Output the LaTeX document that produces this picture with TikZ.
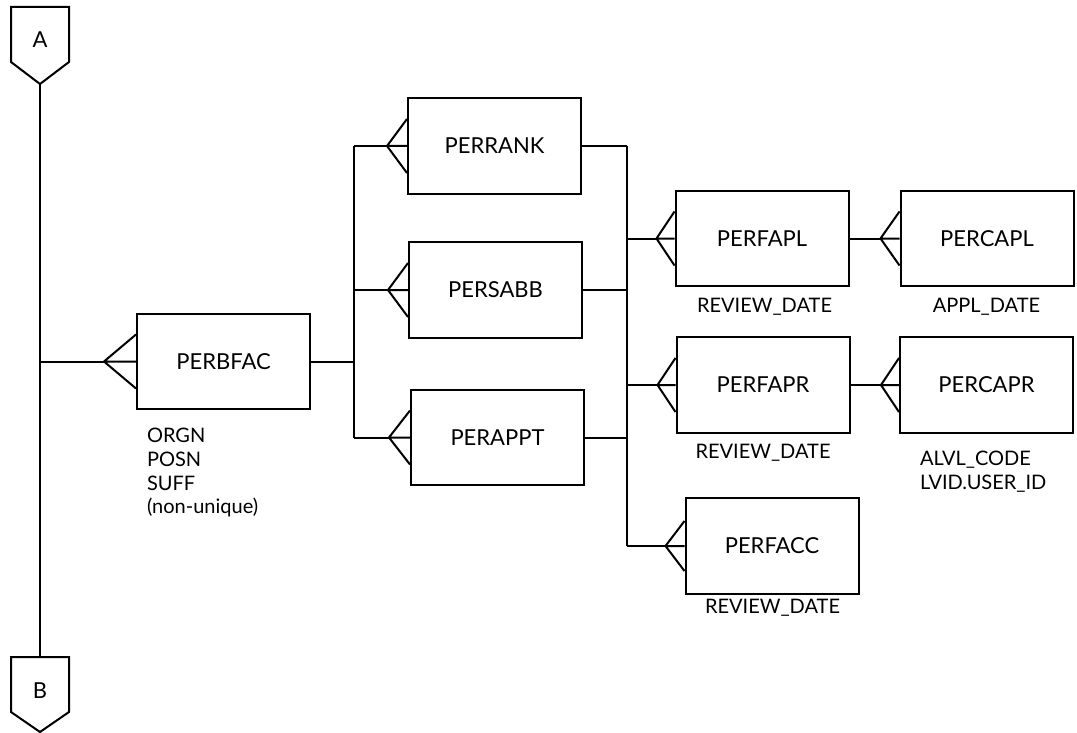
\documentclass[tikz,border=0pt]{standalone}
\usepackage{fontspec}
\setmainfont{Lato}
\usetikzlibrary{calc}
\tikzset{
  entity/.style={draw, rectangle, inner sep=0pt, minimum width=173pt, minimum height=95.5pt, font=\fontsize{22}{26}\selectfont},
  attr/.style={inner sep=0pt, font=\fontsize{20}{24}\selectfont},
  offpage/.style={inner sep=0pt, font=\fontsize{22}{26}\selectfont},
}
% many-end of a relationship: three prongs from a point to the box's west side
\newcommand\crowfoot[3]{%
  \draw ($(#1.west)+(-#2,0)$) -- ($(#1.west)+(0,#3)$)
        ($(#1.west)+(-#2,0)$) -- (#1.west)
        ($(#1.west)+(-#2,0)$) -- ($(#1.west)+(0,-#3)$);}
\begin{document}
\begin{tikzpicture}[x=1pt, y=-1pt, line width=2pt, line join=miter]
\useasboundingbox (0,0) rectangle (1077,733);

% off-page connectors
\draw (11,7) -- (69,7) -- (69,62) -- (40,84) -- (11,62) -- cycle;
\node[offpage, anchor=base] (A) at (40,48) {A};
\coordinate (Atip) at (40,84);
\draw (11,657) -- (69,657) -- (69,712) -- (40,732) -- (11,712) -- cycle;
\node[offpage, anchor=base] (B) at (40,698) {B};
\coordinate (Btop) at (40,657);
\draw (Atip) -- (Btop);

% entities
\node[entity] (perbfac) at (223.5,361.5) {PERBFAC};
\node[entity] (perrank) at (494.5,146) {PERRANK};
\node[entity] (persabb) at (495.5,290) {PERSABB};
\node[entity] (perappt) at (497.5,437.5) {PERAPPT};
\node[entity] (perfapl) at (762,238.5) {PERFAPL};
\node[entity] (percapl) at (987,238.5) {PERCAPL};
\node[entity] (perfapr) at (763,385) {PERFAPR};
\node[entity] (percapr) at (986.5,385) {PERCAPR};
\node[entity] (perfacc) at (772,546) {PERFACC};

% key attributes
\node[attr, anchor=base west] (kbfac1) at (146,442) {ORGN};
\node[attr, anchor=base west] (kbfac2) at (146,466) {POSN};
\node[attr, anchor=base west] (kbfac3) at (146,490) {SUFF};
\node[attr, anchor=base west] (kbfac4) at (146,513) {(non-unique)};
\node[attr, anchor=base] (kfapl) at (764.5,312) {REVIEW\_DATE};
\node[attr, anchor=base] (kcapl) at (986.5,312) {APPL\_DATE};
\node[attr, anchor=base] (kfapr) at (763,458) {REVIEW\_DATE};
\node[attr, anchor=base west] (kcapr1) at (919,465) {ALVL\_CODE};
\node[attr, anchor=base west] (kcapr2) at (919,489) {LVID.USER\_ID};
\node[attr, anchor=base] (kfacc) at (772.5,613) {REVIEW\_DATE};

% junction points
\coordinate (jA) at (40,361.5);
\coordinate (jL) at (354,361.5);
\coordinate (jLt) at (354,146);
\coordinate (jLb) at (354,437.5);
\coordinate (jRt) at (627,146);
\coordinate (jRb) at (627,546);

% A/B line to PERBFAC
\draw (jA) -- ($(perbfac.west)+(-32,0)$);
\crowfoot{perbfac}{32}{27}

% PERBFAC to the three child entities
\draw (perbfac.east) -- (jL);
\draw (jLt) -- (jLb);
\draw (jLt) -- ($(perrank.west)+(-20,0)$);
\crowfoot{perrank}{20}{27}
\draw (jL |- persabb.west) -- ($(persabb.west)+(-20,0)$);
\crowfoot{persabb}{20}{27}
\draw (jLb) -- ($(perappt.west)+(-21,0)$);
\crowfoot{perappt}{21}{27}

% right-hand bus
\draw (perrank.east) -- (jRt);
\draw (persabb.east) -- (jRt |- persabb.east);
\draw (perappt.east) -- (jRt |- perappt.east);
\draw (jRt) -- (jRb);
\draw (jRt |- perfapl.west) -- ($(perfapl.west)+(-18,0)$);
\crowfoot{perfapl}{18}{27}
\draw (jRt |- perfapr.west) -- ($(perfapr.west)+(-18,0)$);
\crowfoot{perfapr}{18}{27}
\draw (jRb) -- ($(perfacc.west)+(-19,0)$);
\crowfoot{perfacc}{19}{25}

% second-level links
\draw (perfapl.east) -- ($(percapl.west)+(-19,0)$);
\crowfoot{percapl}{19}{27}
\draw (perfapr.east) -- ($(percapr.west)+(-18,0)$);
\crowfoot{percapr}{18}{27}
\end{tikzpicture}
\end{document}
